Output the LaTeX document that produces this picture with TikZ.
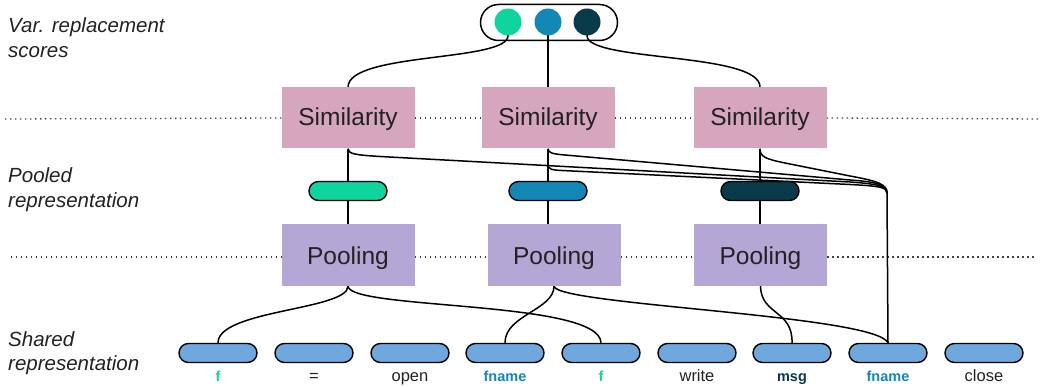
\documentclass[tikz,border=0pt]{standalone}
\usepackage{fontspec}
\setmainfont{Liberation Sans}
\usetikzlibrary{backgrounds}
\definecolor{simc}{HTML}{D5A6BD}
\definecolor{poolc}{HTML}{B4A7D6}
\definecolor{tokc}{HTML}{6FA8DC}
\definecolor{cgreen}{HTML}{10D49E}
\definecolor{cblue}{HTML}{1388B4}
\definecolor{cdark}{HTML}{083A4A}
\definecolor{txt}{HTML}{222222}
\begin{document}
\begin{tikzpicture}[x=1pt,y=-1pt,
  boxsim/.style={fill=simc, minimum width=133pt, minimum height=61pt, inner sep=0pt, font=\fontsize{24.5}{28}\selectfont, text=txt, text height=18pt, text depth=2pt},
  boxpool/.style={fill=poolc, minimum width=133pt, minimum height=62pt, inner sep=0pt, font=\fontsize{24.5}{28}\selectfont, text=txt, text height=20pt, text depth=0pt},
  tok/.style={draw=black, line width=1.4pt, fill=tokc, rounded corners=9.5pt, minimum width=78pt, minimum height=19pt, inner sep=0pt},
  prep/.style={tok},
  dot/.style={circle, minimum size=27pt, inner sep=0pt},
  conn/.style={line width=1.5pt, black},
  sep/.style={line width=1.3pt, black!75, dash pattern=on 1.3pt off 3.7pt},
  side/.style={font=\itshape\fontsize{20.5}{25}\selectfont, text=txt, anchor=base west, inner sep=0pt},
  lab/.style={font=\fontsize{16.5}{20}\selectfont, text=txt, anchor=base, inner sep=0pt},
  blab/.style={font=\bfseries\fontsize{14.5}{18}\selectfont, anchor=base, inner sep=0pt}
]
\useasboundingbox (0,0) rectangle (1045,387);

% side labels
\node[side] (l1a) at (8,33) {Var. replacement};
\node[side] (l1b) at (8,58) {scores};
\node[side] (l2a) at (8,183) {Pooled};
\node[side] (l2b) at (8,208) {representation};
\node[side] (l3a) at (8,347) {Shared};
\node[side] (l3b) at (8,371) {representation};

% score capsule
\node[draw=black, line width=1.5pt, rounded corners=18pt, minimum width=137pt, minimum height=36pt, inner sep=0pt] (cap) at (549,22.5) {};
\node[dot, fill=cgreen] (c1) at (508,22) {};
\node[dot, fill=cblue] (c2) at (548,22) {};
\node[dot, fill=cdark] (c3) at (587,22) {};

% similarity boxes
\node[boxsim] (s1) at (348,118) {Similarity};
\node[boxsim] (s2) at (548,118) {Similarity};
\node[boxsim] (s3) at (760,118) {Similarity};

% pooled representations
\node[prep, fill=cgreen] (p1) at (348,191) {};
\node[prep, fill=cblue] (p2) at (548,191) {};
\node[prep, fill=cdark] (p3) at (760,191) {};

% pooling boxes
\node[boxpool] (q1) at (348,255) {Pooling};
\node[boxpool] (q2) at (554,255) {Pooling};
\node[boxpool] (q3) at (760.5,255) {Pooling};

% tokens
\foreach \i/\x in {1/218,2/314,3/410,4/505,5/601,6/697,7/792,8/888,9/984}{
  \node[tok] (t\i) at (\x,353) {};
}
\node[blab, text=cgreen] (w1) at (218,382) {f};
\node[lab] (w2) at (314,382) {=};
\node[lab] (w3) at (410,382) {open};
\node[blab, text=cblue] (w4) at (505,382) {fname};
\node[blab, text=cgreen] (w5) at (601,382) {f};
\node[lab] (w6) at (697,382) {write};
\node[blab, text=cdark] (w7) at (792,382) {msg};
\node[blab, text=cblue] (w8) at (888,382) {fname};
\node[lab] (w9) at (984,382) {close};

\coordinate (J) at (887,193);

\begin{scope}[on background layer]
  % dotted separators
  \draw[sep] (5,119) -- (s1.west);
  \draw[sep] (s1.east) -- (s2.west);
  \draw[sep] (s2.east) -- (s3.west);
  \draw[sep] (s3.east) -- (1040,119);
  \draw[sep] (11,257) -- (q1.west |- 0,257);
  \draw[sep] (q1.east |- 0,257) -- (q2.west |- 0,257);
  \draw[sep] (q2.east |- 0,257) -- (q3.west |- 0,257);
  \draw[sep] (q3.east |- 0,257) -- (1036,257);

  % scores to similarity
  \draw[conn] (c1.center) -- (c1.south) .. controls (508,62) and (348,52) .. (s1.north);
  \draw[conn] (c2.center) -- (s2.north);
  \draw[conn] (c3.center) -- (c3.south) .. controls (587,62) and (761,52) .. (s3.north);

  % similarity to pooling through pooled rep
  \draw[conn] (s1.south) -- (q1.north);
  \draw[conn] (s2.south) -- (q2.north -| s2.south);
  \draw[conn] (s3.south) -- (s3.south |- q3.north);

  % similarity to fname token
  \draw[conn] (s1.south) .. controls (348,154) and (356,155) .. (380,156.5)
     -- (850,182) .. controls (878,184) and (887,186) .. (J);
  \draw[conn] (s2.south) .. controls (548,153) and (553,154) .. (565,155)
     -- (850,180) .. controls (878,182) and (887,185) .. (J);
  \draw[conn] (548,164) .. controls (548,169) and (551,170) .. (562,170.5)
     -- (850,184.5) .. controls (878,186) and (887,187) .. (J);
  \draw[conn] (s3.south) .. controls (760,157) and (766,159) .. (785,163)
     -- (850,176) .. controls (877,181) and (887,184) .. (J);
  \draw[conn] (J) -- (t8.north);

  % pooling to tokens
  \draw[conn] (q1.south) .. controls (348,310) and (218,310) .. (t1.north);
  \draw[conn] (q1.south) .. controls (350,310) and (600,300) .. (t5.north);
  \draw[conn] (q2.south) .. controls (554,310) and (505,315) .. (t4.north);
  \draw[conn] (q2.south) .. controls (556,305) and (875,315) .. (t8.north);
  \draw[conn] (q3.south) .. controls (761,315) and (793,310) .. (t7.north);
\end{scope}
\end{tikzpicture}
\end{document}
